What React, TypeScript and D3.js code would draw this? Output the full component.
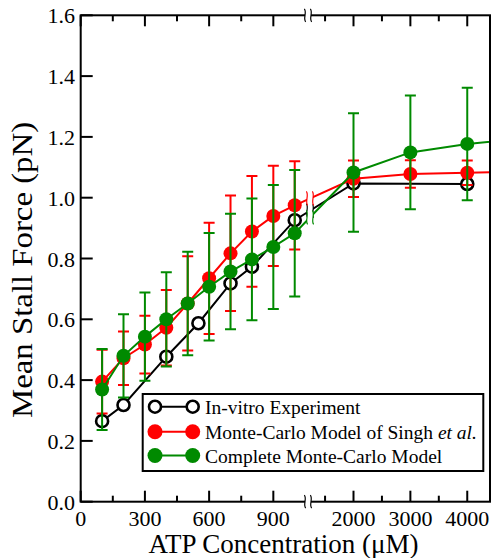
import React from "react";
import * as d3 from "d3";

const blackX = [100, 200, 400, 550, 700, 800, 1000, 2000, 4000];
const blackY = [0.265, 0.318, 0.477, 0.587, 0.718, 0.773, 0.926, 1.047, 1.045];

const redX = [100, 200, 300, 400, 500, 600, 700, 800, 900, 1000, 2000, 3000, 4000, 5000];
const redY = [0.395, 0.472, 0.517, 0.572, 0.652, 0.735, 0.817, 0.889, 0.94, 0.975, 1.062, 1.078, 1.082, 1.086];
const redErr = [0.105, 0.088, 0.095, 0.124, 0.155, 0.183, 0.19, 0.182, 0.165, 0.145, 0.06, 0.045, 0.04, 0.04];

const greenX = [100, 200, 300, 400, 500, 600, 700, 800, 900, 1000, 2000, 3000, 4000, 5000];
const greenY = [0.369, 0.48, 0.543, 0.6, 0.652, 0.707, 0.757, 0.797, 0.838, 0.883, 1.083, 1.149, 1.177, 1.195];
const greenErr = [0.133, 0.137, 0.145, 0.155, 0.17, 0.177, 0.19, 0.2, 0.204, 0.208, 0.195, 0.187, 0.185, 0.185];

const yTicks = [0, 0.2, 0.4, 0.6, 0.8, 1.0, 1.2, 1.4, 1.6];
const xMajor1 = [0, 300, 600, 900];
const xMinor1 = [150, 450, 750];
const xMajor2 = [2000, 3000, 4000];
const xMinor2 = [1500, 2500, 3500];

const legendLabels = ["In-vitro Experiment", "Monte-Carlo Model of Singh ", "Complete Monte-Carlo Model"];

const FONT = "Liberation Serif";

const L = 80.7, R = 490, T = 15.3, B = 501.7, BRK = 308;
const x1 = d3.scaleLinear().domain([0, 1062]).range([L, BRK]);
const x2 = d3.scaleLinear().domain([1200, 4400]).range([BRK, R]);
const xs = (v: number) => (v <= 1100 ? x1(v) : x2(v));
const y = d3.scaleLinear().domain([0, 1.6]).range([B, T]);

const RED = "#ff0000";
const GREEN = "#008a00";

const tStyle = (size: number): React.CSSProperties => ({ fontFamily: FONT, fontSize: size + "px" });

function squiggle(cx: number, cy: number, h: number) {
  const p = d3.path();
  const w = 2.2;
  p.moveTo(cx - w * 0.3, cy - h / 2);
  p.bezierCurveTo(cx + w, cy - h / 4, cx - w, cy + h / 4, cx + w * 0.3, cy + h / 2);
  return p.toString();
}

function BreakMark({ cx, cy, color, h }: { cx: number; cy: number; color: string; h: number }) {
  return (
    <g>
      <rect x={cx - 3} y={cy - h / 2 + 1} width={6} height={h - 2} fill="white" />
      <path d={squiggle(cx - 3, cy, h)} stroke={color} strokeWidth={1.2} fill="none" />
      <path d={squiggle(cx + 3, cy, h)} stroke={color} strokeWidth={1.2} fill="none" />
    </g>
  );
}

function Series({ xsArr, ysArr, errs, color, open }: any) {
  const pts = xsArr.map((v: number, i: number) => [xs(v), y(ysArr[i])] as [number, number]);
  const line = d3.line()(pts) || "";
  let by = 0;
  for (let i = 0; i < pts.length - 1; i++) {
    if (pts[i][0] <= BRK + 2 && pts[i + 1][0] > BRK + 2) {
      const t = (BRK + 2 - pts[i][0]) / (pts[i + 1][0] - pts[i][0]);
      by = pts[i][1] + t * (pts[i + 1][1] - pts[i][1]);
    }
  }
  return (
    <g>
      <path d={line} stroke={color} strokeWidth={2} fill="none" />
      <BreakMark cx={BRK + 2} cy={by} color={color} h={14} />
      {errs &&
        pts.map((p: [number, number], i: number) => {
          const yt = y(ysArr[i] + errs[i]);
          const yb = y(ysArr[i] - errs[i]);
          return (
            <g key={"e" + i} stroke={color} strokeWidth={2}>
              <line x1={p[0]} x2={p[0]} y1={yt} y2={yb} />
              <line x1={p[0] - 5.5} x2={p[0] + 5.5} y1={yt} y2={yt} />
              <line x1={p[0] - 5.5} x2={p[0] + 5.5} y1={yb} y2={yb} />
            </g>
          );
        })}
      {pts.map((p: [number, number], i: number) =>
        open ? (
          <circle key={"m" + i} cx={p[0]} cy={p[1]} r={6} fill="white" stroke={color} strokeWidth={2.6} />
        ) : (
          <circle key={"m" + i} cx={p[0]} cy={p[1]} r={7} fill={color} />
        )
      )}
    </g>
  );
}

export default function App() {
  const legendRows = [406.7, 431.7, 455.5];
  const legendColors = ["black", RED, GREEN];
  return (
    <svg width={492} height={558} style={{ position: "absolute", left: 0, top: 0, background: "white" }}>
      <defs>
        <clipPath id="plot">
          <rect x={L} y={T} width={R - L} height={B - T} />
        </clipPath>
      </defs>
      <g clipPath="url(#plot)">
        <Series xsArr={blackX} ysArr={blackY} color="black" open />
        <Series xsArr={redX} ysArr={redY} errs={redErr} color={RED} />
        <Series xsArr={greenX} ysArr={greenY} errs={greenErr} color={GREEN} />
      </g>
      <rect x={L} y={T} width={R - L} height={B - T} fill="none" stroke="black" strokeWidth={2} />
      {yTicks.map((v) => (
        <g key={"yt" + v}>
          <line x1={L} x2={L + 12} y1={y(v)} y2={y(v)} stroke="black" strokeWidth={2} />
          <text x={75} y={y(v) + 8} textAnchor="end" style={tStyle(22)}>
            {v.toFixed(1)}
          </text>
        </g>
      ))}
      {[...xMajor1.map((v) => x1(v)), ...xMajor2.map((v) => x2(v))].map((px, i) => (
        <g key={"xM" + i} stroke="black" strokeWidth={2}>
          <line x1={px} x2={px} y1={B} y2={B - 11} />
          <line x1={px} x2={px} y1={T} y2={T + 11} />
        </g>
      ))}
      {[...xMinor1.map((v) => x1(v)), ...xMinor2.map((v) => x2(v))].map((px, i) => (
        <g key={"xm" + i} stroke="black" strokeWidth={2}>
          <line x1={px} x2={px} y1={B} y2={B - 6} />
          <line x1={px} x2={px} y1={T} y2={T + 6} />
        </g>
      ))}
      {xMajor1.map((v) => (
        <text key={"xl" + v} x={x1(v)} y={525.5} textAnchor="middle" style={tStyle(22)}>
          {v}
        </text>
      ))}
      {xMajor2.map((v) => (
        <text key={"xl2" + v} x={x2(v)} y={525.5} textAnchor="middle" style={tStyle(22)}>
          {v}
        </text>
      ))}
      <BreakMark cx={BRK} cy={B} color="black" h={13} />
      <BreakMark cx={BRK} cy={T} color="black" h={13} />
      <text x={283.5} y={552.7} textAnchor="middle" style={tStyle(27)}>
        ATP Concentration (μM)
      </text>
      <text
        transform="translate(31.7,269.9) rotate(-90)"
        textAnchor="middle"
        style={tStyle(30)}
        textLength={296}
        lengthAdjust="spacingAndGlyphs"
      >
        Mean Stall Force (pN)
      </text>
      <rect x={142.7} y={394} width={340.6} height={77} fill="white" stroke="black" strokeWidth={2} />
      {legendRows.map((ry, i) => (
        <g key={"lg" + i}>
          <line x1={155} x2={192.7} y1={ry} y2={ry} stroke={legendColors[i]} strokeWidth={2} />
          {i === 0 ? (
            <>
              <circle cx={155} cy={ry} r={6} fill="white" stroke="black" strokeWidth={2.6} />
              <circle cx={192.7} cy={ry} r={6} fill="white" stroke="black" strokeWidth={2.6} />
            </>
          ) : (
            <>
              <circle cx={155} cy={ry} r={7.5} fill={legendColors[i]} />
              <circle cx={192.7} cy={ry} r={7.5} fill={legendColors[i]} />
            </>
          )}
          <text x={205} y={ry + 7} style={tStyle(19.5)}>
            {legendLabels[i]}
            {i === 1 ? <tspan style={{ fontStyle: "italic" }}>et al.</tspan> : null}
          </text>
        </g>
      ))}
    </svg>
  );
}
